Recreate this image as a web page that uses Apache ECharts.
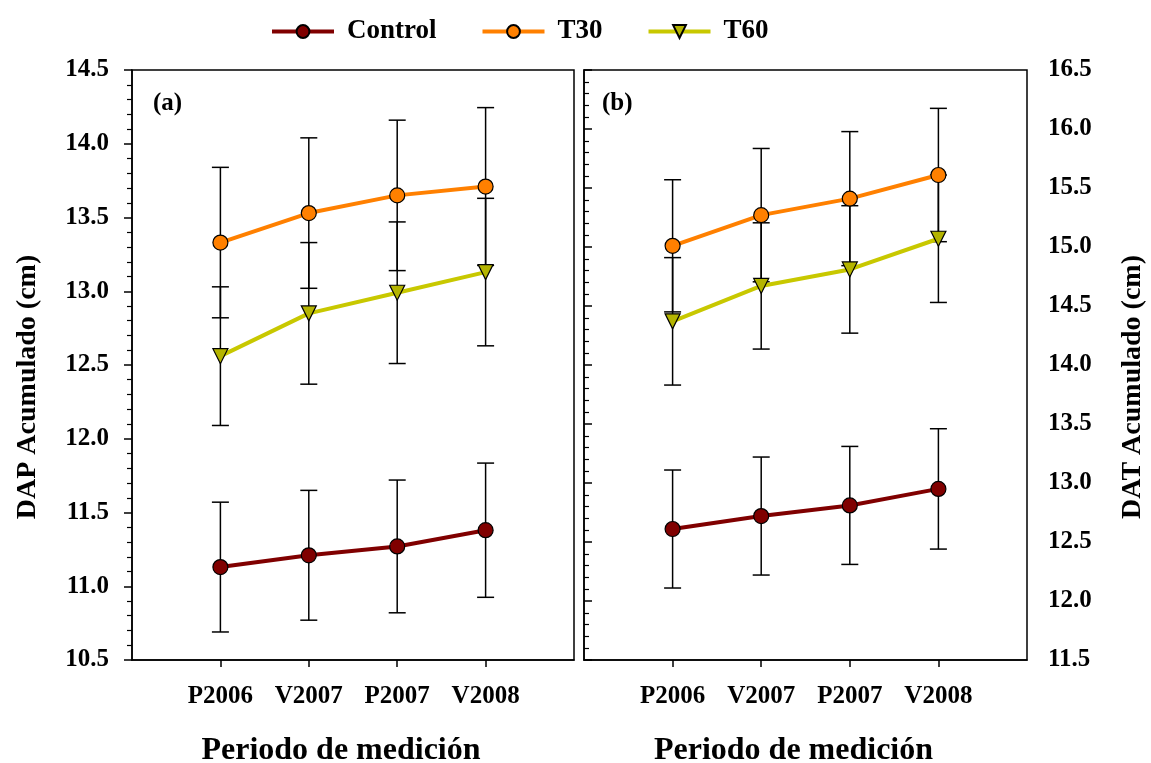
<!DOCTYPE html>
<html>
<head>
<meta charset="utf-8">
<script src="https://cdn.jsdelivr.net/npm/echarts@6/dist/echarts.min.js"></script>
<style>
  html, body { margin: 0; padding: 0; background: #fff; }
  #chart { width: 1151px; height: 763px; }
</style>
</head>
<body>
<div id="chart"></div>
<script>
// periodos de medición (posiciones 1..4 en el eje x)
const categories = ['P2006', 'V2007', 'P2007', 'V2008'];
const xPos = [1, 2, 3, 4];

// (a) DAP acumulado (cm)
const dapControl = [11.13, 11.21, 11.27, 11.38];
const dapControlErr = [0.44, 0.44, 0.45, 0.455];
const dapT30 = [13.33, 13.53, 13.65, 13.71];
const dapT30Err = [0.51, 0.51, 0.51, 0.535];
const dapT60 = [12.56, 12.85, 12.99, 13.13];
const dapT60Err = [0.47, 0.48, 0.48, 0.50];

// (b) DAT acumulado (cm)
const datControl = [12.61, 12.72, 12.81, 12.95];
const datControlErr = [0.50, 0.50, 0.50, 0.51];
const datT30 = [15.01, 15.27, 15.41, 15.61];
const datT30Err = [0.56, 0.565, 0.568, 0.565];
const datT60 = [14.37, 14.67, 14.81, 15.07];
const datT60Err = [0.54, 0.535, 0.54, 0.54];

const font = '"Liberation Serif", "Times New Roman", serif';
const triDown = 'path://M0,0 L10,0 L5,9 Z';

const styles = {
  Control: { line: '#800000', fill: '#800000', symbol: 'circle' },
  T30: { line: '#ff8000', fill: '#ff8000', symbol: 'circle' },
  T60: { line: '#c8c800', fill: '#b4b400', symbol: triDown }
};

function lineSeries(name, values, gi) {
  const s = styles[name];
  return {
    name: name,
    type: 'line',
    xAxisIndex: gi,
    yAxisIndex: gi,
    data: xPos.map((x, i) => [x, values[i]]),
    symbol: s.symbol,
    symbolSize: 15,
    lineStyle: { color: s.line, width: 4 },
    itemStyle: { color: s.fill, borderColor: '#000', borderWidth: 1.2 },
    emphasis: { disabled: true },
    z: 3
  };
}

function errorSeries(values, errs, gi) {
  return {
    type: 'custom',
    xAxisIndex: gi,
    yAxisIndex: gi,
    silent: true,
    data: xPos.map((x, i) => [x, values[i] - errs[i], values[i] + errs[i]]),
    encode: { x: 0, y: [1, 2] },
    renderItem: function (params, api) {
      const x = api.value(0);
      const lo = api.coord([x, api.value(1)]);
      const hi = api.coord([x, api.value(2)]);
      const half = 8.5;
      const st = { stroke: '#000', lineWidth: 1.5 };
      return {
        type: 'group',
        children: [
          { type: 'line', shape: { x1: lo[0], y1: lo[1], x2: hi[0], y2: hi[1] }, style: st },
          { type: 'line', shape: { x1: hi[0] - half, y1: hi[1], x2: hi[0] + half, y2: hi[1] }, style: st },
          { type: 'line', shape: { x1: lo[0] - half, y1: lo[1], x2: lo[0] + half, y2: lo[1] }, style: st }
        ]
      };
    },
    z: 3
  };
}

function xAxisFor(gi) {
  return {
    type: 'value',
    gridIndex: gi,
    min: 0,
    max: 5,
    interval: 1,
    name: 'Periodo de medición',
    nameLocation: 'middle',
    nameGap: 75,
    nameTextStyle: { fontFamily: font, fontWeight: 'bold', fontSize: 32, color: '#000', padding: [0, 24, 0, 0] },
    axisLine: { show: true, lineStyle: { color: '#000', width: 1.5 } },
    axisTick: { show: true, inside: false, length: 7, customValues: xPos, lineStyle: { color: '#000', width: 1.5 } },
    axisLabel: {
      customValues: xPos,
      margin: 24,
      fontFamily: font, fontWeight: 'bold', fontSize: 25, color: '#000',
      formatter: v => categories[Math.round(v) - 1] || ''
    },
    splitLine: { show: false }
  };
}

function yAxisFor(gi, min, max, name, pos) {
  return {
    type: 'value',
    gridIndex: gi,
    position: pos,
    min: min,
    max: max,
    interval: 0.5,
    name: name,
    nameLocation: 'middle',
    nameGap: pos === 'left' ? 90 : 92,
    nameTextStyle: { fontFamily: font, fontWeight: 'bold', fontSize: 28, color: '#000', padding: [0, 44, 0, 0] },
    axisLine: { show: true, lineStyle: { color: '#000', width: 1.5 } },
    axisTick: { show: true, inside: false, length: 8, lineStyle: { color: '#000', width: 1.5 } },
    minorTick: { show: true, splitNumber: 5, length: 5, lineStyle: { color: '#000', width: 1.2 } },
    axisLabel: {
      margin: pos === 'left' ? 23 : 21,
      fontFamily: font, fontWeight: 'bold', fontSize: 25, color: '#000',
      formatter: v => v.toFixed(1)
    },
    splitLine: { show: false }
  };
}

const chart = echarts.init(document.getElementById('chart'));

chart.setOption({
  backgroundColor: '#fff',
  animation: false,
  title: [
    { text: '(a)', left: 148, top: 86, textStyle: { fontFamily: font, fontWeight: 'bold', fontSize: 25, color: '#000' } },
    { text: '(b)', left: 597, top: 86, textStyle: { fontFamily: font, fontWeight: 'bold', fontSize: 25, color: '#000' } }
  ],
  legend: {
    left: 265,
    top: 13,
    itemWidth: 62,
    itemHeight: 16,
    itemGap: 44,
    data: ['Control', 'T30', 'T60'],
    lineStyle: { width: 4 },
    textStyle: { fontFamily: font, fontWeight: 'bold', fontSize: 27, color: '#000', padding: [0, 0, 0, 8] }
  },
  grid: [
    { left: 132, top: 70, width: 442, height: 590, outerBoundsMode: 'none', show: true, borderColor: '#000', borderWidth: 1.5, backgroundColor: '#fff' },
    { left: 584, top: 70, width: 443, height: 590, outerBoundsMode: 'none', show: true, borderColor: '#000', borderWidth: 1.5, backgroundColor: '#fff' }
  ],
  xAxis: [xAxisFor(0), xAxisFor(1)],
  yAxis: [
    yAxisFor(0, 10.5, 14.5, 'DAP Acumulado (cm)', 'left'),
    yAxisFor(1, 11.5, 16.5, 'DAT Acumulado (cm)', 'right')
  ],
  series: [
    errorSeries(dapControl, dapControlErr, 0),
    lineSeries('Control', dapControl, 0),
    errorSeries(dapT30, dapT30Err, 0),
    lineSeries('T30', dapT30, 0),
    errorSeries(dapT60, dapT60Err, 0),
    lineSeries('T60', dapT60, 0),
    errorSeries(datControl, datControlErr, 1),
    lineSeries('Control', datControl, 1),
    errorSeries(datT30, datT30Err, 1),
    lineSeries('T30', datT30, 1),
    errorSeries(datT60, datT60Err, 1),
    lineSeries('T60', datT60, 1)
  ]
});

window.addEventListener('resize', () => chart.resize());
</script>
</body>
</html>
